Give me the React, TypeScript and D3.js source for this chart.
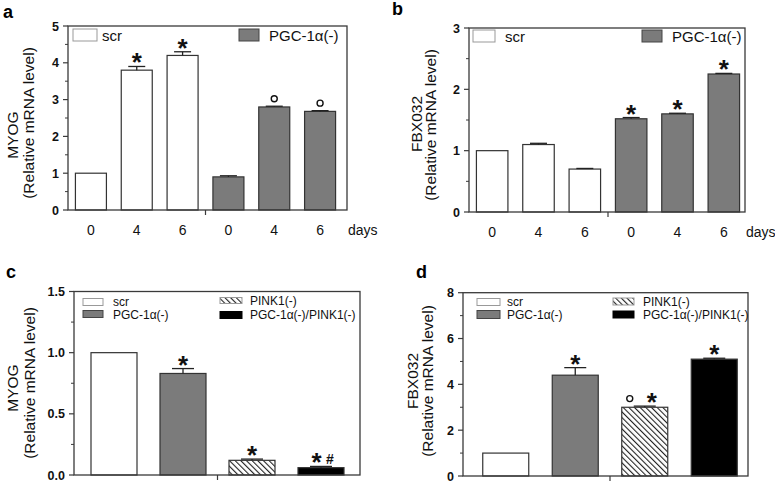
import React from "react";
import * as d3 from "d3";

// ---------- data ----------
const dayLabels = ["0", "4", "6", "0", "4", "6"];
const myogA = [1.0, 3.8, 4.2, 0.9, 2.8, 2.68];
const myogAErr = [0, 0.1, 0.1, 0.03, 0.02, 0.02];
const markA = ["", "*", "*", "", "o", "o"];

const fbxB = [1.0, 1.1, 0.7, 1.52, 1.6, 2.25];
const fbxBErr = [0, 0.02, 0.01, 0.02, 0.01, 0.01];
const markB = ["", "", "", "*", "*", "*"];

const groupsCD = ["scr", "PGC-1α(-)", "PINK1(-)", "PGC-1α(-)/PINK1(-)"];
const myogC = [1.0, 0.83, 0.12, 0.06];
const myogCErr = [0, 0.04, 0.01, 0.01];
const markC = ["", "*", "*", "*#"];

const fbxD = [1.0, 4.4, 3.0, 5.1];
const fbxDErr = [0, 0.33, 0.05, 0.04];
const markD = ["", "*", "o*", "*"];

const fillsAB = ["white", "white", "white", "gray", "gray", "gray"];
const fillsCD = ["white", "gray", "hatch", "black"];

const FONT = "Liberation Sans, Arial, Helvetica, sans-serif";
const FRAME = "#3a3a3a";
const GRAY = "#7b7b7b";

function fillOf(k: string) {
  if (k === "white") return "#ffffff";
  if (k === "gray") return GRAY;
  if (k === "black") return "#000000";
  return "url(#hatch)";
}

// horizontal offsets of each symbol relative to the bar centre
function markOffsets(m: string): number[] {
  if (m === "*#") return [-4.5, 9];
  if (m === "o*") return [-15, 7];
  return [0];
}

type PanelProps = {
  letter: string;
  letterX: number;
  letterY: number;
  frame: { l: number; r: number; t: number; b: number };
  domain: [number, number];
  majors: number[];
  minors: number[];
  fmt: (v: number) => string;
  bandRange: [number, number];
  barW: number;
  values: number[];
  errs: number[];
  marks: string[];
  fills: string[];
  xLabels?: string[];
  midAfter: number;
  title: string;
  titleX1: number;
  titleY1: number;
  titleX2: number;
  titleY2: number;
  capW: number;
  legend: React.ReactNode;
};

function Panel(p: PanelProps) {
  const { frame } = p;
  const y = d3.scaleLinear().domain(p.domain).range([frame.b, frame.t]);
  const idx = p.values.map((_, i) => i);
  const x = d3.scalePoint<number>().domain(idx).range(p.bandRange).padding(0.5);
  const midX = ((x(p.midAfter) as number) + (x(p.midAfter + 1) as number)) / 2;
  return (
    <g>
      <text x={p.letterX} y={p.letterY} fontFamily={FONT} fontWeight="bold" fontSize={18}>
        {p.letter}
      </text>
      {/* bars */}
      {p.values.map((v, i) => {
        const cx = x(i) as number;
        const top = y(v);
        const et = y(v + p.errs[i]);
        const m = p.marks[i];
        const offs = markOffsets(m);
        return (
          <g key={i}>
            <rect
              x={cx - p.barW / 2}
              y={top}
              width={p.barW}
              height={frame.b - top}
              fill={fillOf(p.fills[i])}
              stroke="#333"
              strokeWidth={1.2}
            />
            {p.errs[i] > 0 && (
              <g stroke="#222" strokeWidth={1.3}>
                <line x1={cx} x2={cx} y1={top} y2={et} />
                <line x1={cx - p.capW / 2} x2={cx + p.capW / 2} y1={et} y2={et} />
              </g>
            )}
            {m &&
              m.split("").map((c, j) => {
                const px = cx + offs[j];
                if (c === "o")
                  return <circle key={j} cx={px} cy={et - 7.5} r={3} fill="none" stroke="#111" strokeWidth={1.4} />;
                if (c === "*")
                  return (
                    <text
                      key={j}
                      x={px}
                      y={et + 5}
                      textAnchor="middle"
                      fontFamily={FONT}
                      fontWeight="bold"
                      fontSize={26}
                      fill="#111"
                    >
                      *
                    </text>
                  );
                return (
                  <text key={j} x={px} y={et - 2} textAnchor="middle" fontFamily={FONT} fontWeight="bold" fontSize={14} fill="#111">
                    {c}
                  </text>
                );
              })}
          </g>
        );
      })}
      {/* frame */}
      <rect
        x={frame.l}
        y={frame.t}
        width={frame.r - frame.l}
        height={frame.b - frame.t}
        fill="none"
        stroke={FRAME}
        strokeWidth={1.3}
      />
      {/* y ticks */}
      {p.majors.map((t) => (
        <g key={"M" + t}>
          <line x1={frame.l - 5} x2={frame.l} y1={y(t)} y2={y(t)} stroke={FRAME} strokeWidth={1.2} />
          <text
            x={frame.l - 9}
            y={y(t) + 4.5}
            textAnchor="end"
            fontFamily={FONT}
            fontWeight="bold"
            fontSize={12.5}
            fill="#111"
          >
            {p.fmt(t)}
          </text>
        </g>
      ))}
      {p.minors.map((t) => (
        <line key={"m" + t} x1={frame.l - 3} x2={frame.l} y1={y(t)} y2={y(t)} stroke={FRAME} strokeWidth={1} />
      ))}
      {/* middle tick */}
      <line x1={midX} x2={midX} y1={frame.b} y2={frame.b + 5} stroke={FRAME} strokeWidth={1.2} />
      {/* x labels */}
      {p.xLabels &&
        p.xLabels.map((l, i) => (
          <text key={i} x={x(i) as number} y={frame.b + 25} textAnchor="middle" fontFamily={FONT} fontSize={14} fill="#111">
            {l}
          </text>
        ))}
      {p.xLabels && (
        <text x={frame.r + 1} y={frame.b + 25} fontFamily={FONT} fontSize={14} fill="#111">
          days
        </text>
      )}
      {/* y title */}
      <text
        transform={`translate(${p.titleX1},${p.titleY1}) rotate(-90)`}
        textAnchor="middle"
        fontFamily={FONT}
        fontSize={15.5}
        fill="#111"
        dy="0.35em"
      >
        {p.title}
      </text>
      <text
        transform={`translate(${p.titleX2},${p.titleY2}) rotate(-90)`}
        textAnchor="middle"
        fontFamily={FONT}
        fontSize={15.5}
        fill="#111"
        dy="0.35em"
      >
        (Relative mRNA level)
      </text>
      {p.legend}
    </g>
  );
}

function LegendItem(props: { x: number; y: number; w: number; h: number; fill: string; label: string; tx: number; ty: number; fs: number; light?: boolean }) {
  return (
    <g>
      <rect
        x={props.x}
        y={props.y}
        width={props.w}
        height={props.h}
        fill={fillOf(props.fill)}
        stroke={props.light ? "#999" : props.fill === "black" ? "#000" : "#444"}
        strokeWidth={1}
      />
      <text x={props.tx} y={props.ty} fontFamily={FONT} fontSize={props.fs} fill="#111">
        {props.label}
      </text>
    </g>
  );
}

function rangeStep(a: number, b: number, s: number) {
  return d3.range(a, b + s / 2, s);
}

export default function App() {
  return (
    <svg width={775} height={483} style={{ position: "absolute", left: 0, top: 0, background: "#fff" }}>
      <defs>
        <pattern id="hatch" width={4} height={4} patternUnits="userSpaceOnUse" patternTransform="rotate(-45)">
          <rect width={4} height={4} fill="#fff" />
          <line x1={0} y1={0} x2={0} y2={4} stroke="#222" strokeWidth={2.2} />
        </pattern>
      </defs>
      <rect width={775} height={483} fill="#fff" />

      <Panel
        letter="a"
        letterX={3}
        letterY={18}
        frame={{ l: 68, r: 347, t: 26, b: 210 }}
        domain={[0, 5]}
        majors={[0, 1, 2, 3, 4, 5]}
        minors={rangeStep(0.5, 4.5, 1)}
        fmt={(v) => String(v)}
        bandRange={[68, 343]}
        barW={31}
        values={myogA}
        errs={myogAErr}
        marks={markA}
        fills={fillsAB}
        xLabels={dayLabels}
        midAfter={2}
        title="MYOG"
        titleX1={13}
        titleY1={135}
        titleX2={29}
        titleY2={123}
        capW={17}
        legend={
          <g>
            <LegendItem x={73} y={29} w={24} h={12} fill="white" label="scr" tx={102} ty={40.5} fs={15} light />
            <LegendItem x={239} y={29} w={20} h={12} fill="gray" label="PGC-1α(-)" tx={269} ty={40.5} fs={15} />
          </g>
        }
      />
      <Panel
        letter="b"
        letterX={392}
        letterY={15}
        frame={{ l: 469, r: 745, t: 28, b: 212 }}
        domain={[0, 3]}
        majors={[0, 1, 2, 3]}
        minors={rangeStep(0.5, 2.5, 1)}
        fmt={(v) => String(v)}
        bandRange={[469, 747]}
        barW={31.5}
        values={fbxB}
        errs={fbxBErr}
        marks={markB}
        fills={fillsAB}
        xLabels={dayLabels}
        midAfter={2}
        title="FBX032"
        titleX1={417}
        titleY1={124}
        titleX2={431}
        titleY2={125}
        capW={17}
        legend={
          <g>
            <LegendItem x={473} y={30} w={22} h={12} fill="white" label="scr" tx={505} ty={41.5} fs={15} light />
            <LegendItem x={642} y={30} w={20} h={12} fill="gray" label="PGC-1α(-)" tx={672} ty={41.5} fs={15} />
          </g>
        }
      />
      <Panel
        letter="c"
        letterX={6}
        letterY={278}
        frame={{ l: 74, r: 360, t: 291.5, b: 475 }}
        domain={[0, 1.5]}
        majors={[0, 0.5, 1.0, 1.5]}
        minors={rangeStep(0.25, 1.25, 0.5)}
        fmt={(v) => d3.format(".1f")(v)}
        bandRange={[79.5, 355.5]}
        barW={46}
        values={myogC}
        errs={myogCErr}
        marks={markC}
        fills={fillsCD}
        midAfter={1}
        title="MYOG"
        titleX1={13}
        titleY1={388}
        titleX2={30}
        titleY2={383}
        capW={22}
        legend={
          <g>
            <LegendItem x={83} y={298.5} w={20} h={7} fill="white" label={groupsCD[0]} tx={113} ty={306} fs={12} light />
            <LegendItem x={83} y={310.5} w={20} h={7} fill="gray" label={groupsCD[1]} tx={113} ty={318.5} fs={12} />
            <LegendItem x={220} y={297.5} w={22} h={6} fill="hatch" label={groupsCD[2]} tx={250} ty={305} fs={12} light />
            <LegendItem x={220} y={311.5} w={22} h={7} fill="black" label={groupsCD[3]} tx={250} ty={318.5} fs={12} />
          </g>
        }
      />
      <Panel
        letter="d"
        letterX={416}
        letterY={278}
        frame={{ l: 463, r: 748, t: 292.7, b: 476 }}
        domain={[0, 8]}
        majors={[0, 2, 4, 6, 8]}
        minors={rangeStep(1, 7, 2)}
        fmt={(v) => String(v)}
        bandRange={[471, 749]}
        barW={46}
        values={fbxD}
        errs={fbxDErr}
        marks={markD}
        fills={fillsCD}
        midAfter={1}
        title="FBX032"
        titleX1={413}
        titleY1={381}
        titleX2={428}
        titleY2={381}
        capW={22}
        legend={
          <g>
            <LegendItem x={477} y={298.5} w={23} h={7} fill="white" label={groupsCD[0]} tx={507} ty={306} fs={12} light />
            <LegendItem x={477} y={310.5} w={23} h={8} fill="gray" label={groupsCD[1]} tx={507} ty={318.5} fs={12} />
            <LegendItem x={613} y={298} w={21} h={7} fill="hatch" label={groupsCD[2]} tx={643} ty={305.5} fs={12} light />
            <LegendItem x={613} y={311} w={21} h={7} fill="black" label={groupsCD[3]} tx={643} ty={318.5} fs={12} />
          </g>
        }
      />
    </svg>
  );
}
